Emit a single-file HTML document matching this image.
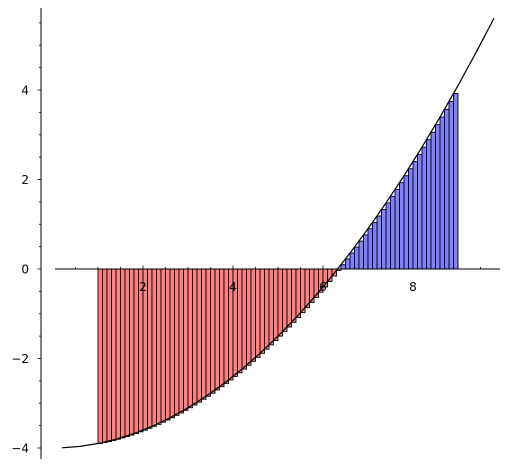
<!DOCTYPE html>
<html><head><meta charset="utf-8"><style>
html,body{margin:0;padding:0;background:#fff;width:512px;height:468px;overflow:hidden}
svg text{font-family:"DejaVu Sans","Liberation Sans",sans-serif;font-size:12px;fill:#000}
</style></head><body>
<svg id="chart" width="512" height="468" viewBox="0 0 512 468" xmlns="http://www.w3.org/2000/svg">
<g id="bars"></g>
<g id="curve"></g>
<g id="axes"></g>
</svg>
<script>
const barLefts = [1.0,1.1,1.2,1.3,1.4,1.5,1.6,1.7,1.8,1.9,2.0,2.1,2.2,2.3,2.4,2.5,2.6,2.7,2.8,2.9,3.0,3.1,3.2,3.3,3.4,3.5,3.6,3.7,3.8,3.9,4.0,4.1,4.2,4.3,4.4,4.5,4.6,4.7,4.8,4.9,5.0,5.1,5.2,5.3,5.4,5.5,5.6,5.7,5.8,5.9,6.0,6.1,6.2,6.3,6.4,6.5,6.6,6.7,6.8,6.9,7.0,7.1,7.2,7.3,7.4,7.5,7.6,7.7,7.8,7.9,8.0,8.1,8.2,8.3,8.4,8.5,8.6,8.7,8.8,8.9];
const barHeights = [-3.9,-3.879,-3.856,-3.831,-3.804,-3.775,-3.744,-3.711,-3.676,-3.639,-3.6,-3.559,-3.516,-3.471,-3.424,-3.375,-3.324,-3.271,-3.216,-3.159,-3.1,-3.039,-2.976,-2.911,-2.844,-2.775,-2.704,-2.631,-2.556,-2.479,-2.4,-2.319,-2.236,-2.151,-2.064,-1.975,-1.884,-1.791,-1.696,-1.599,-1.5,-1.399,-1.296,-1.191,-1.084,-0.975,-0.864,-0.751,-0.636,-0.519,-0.4,-0.279,-0.156,-0.031,0.096,0.225,0.356,0.489,0.624,0.761,0.9,1.041,1.184,1.329,1.476,1.625,1.776,1.929,2.084,2.241,2.4,2.561,2.724,2.889,3.056,3.225,3.396,3.569,3.744,3.921];
const barWidth = 0.1;
const curveX = [0.2,0.6,1.0,1.4,1.8,2.2,2.6,3.0,3.4,3.8,4.2,4.6,5.0,5.4,5.8,6.2,6.6,7.0,7.4,7.8,8.2,8.6,9.0,9.4,9.8];
const curveY = [-3.996,-3.964,-3.9,-3.804,-3.676,-3.516,-3.324,-3.1,-2.844,-2.556,-2.236,-1.884,-1.5,-1.084,-0.636,-0.156,0.356,0.9,1.476,2.084,2.724,3.396,4.1,4.836,5.604];
const xTicks = [2,4,6,8];
const xTickLabels = ["2","4","6","8"];
const yTicks = [-4,-2,0,2,4];
const yTickLabels = ["\u22124","\u22122","0","2","4"];

const NS="http://www.w3.org/2000/svg";
function sx(x){return 53+45*x;}
function sy(y){return 269-44.75*y;}
function mk(tag,attrs,parent){const e=document.createElementNS(NS,tag);for(const k in attrs)e.setAttribute(k,attrs[k]);parent.appendChild(e);return e;}

const gb=document.getElementById('bars');
barLefts.forEach((x,i)=>{
  const h=barHeights[i];
  const x0=sx(x),x1=sx(x+barWidth),y0=sy(0),y1=sy(h);
  const r=mk('rect',{x:x0,y:Math.min(y0,y1),width:x1-x0,height:Math.abs(y1-y0),fill:h<0?'#ff8080':'#8080ff',stroke:'#000','stroke-width':0.9},gb);
  
  
});

const gc=document.getElementById('curve');
const p=mk('polyline',{points:curveX.map((x,i)=>sx(x)+','+sy(curveY[i])).join(' '),fill:'none',stroke:'#000','stroke-width':1.2},gc);



const ga=document.getElementById('axes');
const xa=mk('line',{x1:55,y1:sy(0),x2:500,y2:sy(0),stroke:'#000','stroke-width':1},ga);


const ya=mk('line',{x1:41,y1:8,x2:41,y2:459,stroke:'#000','stroke-width':1},ga);


for(let v=0.5;v<=9.5;v+=0.5){
  const major=xTicks.includes(v);
  mk('line',{x1:sx(v),y1:sy(0),x2:sx(v),y2:sy(0)-(major?3.5:2),stroke:'#000','stroke-width':0.8},ga);
}
for(let v=-4;v<=5.5;v+=0.5){
  const major=yTicks.includes(v);
  mk('line',{x1:41,y1:sy(v),x2:41-(major?3.5:2),y2:sy(v),stroke:'#000','stroke-width':0.8},ga);
}
xTicks.forEach((v,i)=>{
  const t=mk('text',{x:sx(v),y:sy(0)+22,'text-anchor':'middle'},ga);
  t.textContent=xTickLabels[i];
  
  
});
yTicks.forEach((v,i)=>{
  const t=mk('text',{x:29,y:sy(v)+4.5,'text-anchor':'end'},ga);
  t.textContent=yTickLabels[i];
  
  
});
</script>
</body></html>
